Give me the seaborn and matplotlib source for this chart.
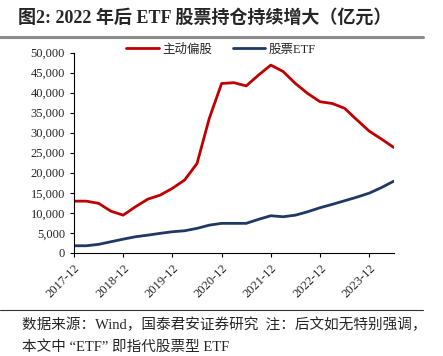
import pandas as pd
import seaborn as sns
import matplotlib.pyplot as plt
from matplotlib.lines import Line2D
from matplotlib.ticker import FuncFormatter

# quarterly holdings, 100m yuan
quarters = pd.date_range("2017-12-31", periods=27, freq="QE").strftime("%Y-%m").tolist()
active_equity = [12900, 12900, 12350, 10400, 9400, 11500, 13400, 14400, 16100,
                 18200, 22300, 33600, 42300, 42500, 41700, 44400, 46900, 45300,
                 42300, 39800, 37750, 37300, 36100, 33200, 30400, 28400, 26300]
stock_etf = [1750, 1750, 2100, 2750, 3400, 4000, 4400, 4850, 5250,
             5500, 6100, 6900, 7350, 7350, 7350, 8350, 9250, 9000,
             9400, 10250, 11250, 12100, 13000, 13900, 14900, 16300, 17900]
series_names = ["主动偏股", "股票ETF"]
colors = ["#C00000", "#1F3864"]

df = pd.DataFrame({
    "idx": list(range(len(quarters))) * 2,
    "value": active_equity + stock_etf,
    "series": [series_names[0]] * len(quarters) + [series_names[1]] * len(quarters),
})

sns.set_style("ticks")
plt.rcParams["font.family"] = ["Liberation Serif", "Noto Sans CJK SC"]

fig = plt.figure(figsize=(4.43, 3.56), dpi=100)
ax = fig.add_axes([0.167, 0.290, 0.722, 0.562])

sns.lineplot(data=df, x="idx", y="value", hue="series", palette=colors,
             linewidth=2.0, ax=ax)
for ln in ax.get_lines():
    ln.set_solid_joinstyle("round")
    ln.set_solid_capstyle("round")

ax.set_xlim(0, len(quarters) - 1)
ax.set_ylim(0, 50000)
ax.set_yticks(range(0, 50001, 5000))
ax.yaxis.set_major_formatter(FuncFormatter(lambda v, p: f"{int(v):,}"))
ax.set_xticks(range(0, len(quarters), 4))
ax.set_xticklabels(quarters[::4], rotation=45, ha="right", rotation_mode="anchor")
ax.tick_params(axis="both", labelsize=9, length=3, width=0.8, color="black")
ax.set_xlabel("")
ax.set_ylabel("")
sns.despine(ax=ax)
for s in ["left", "bottom"]:
    ax.spines[s].set_color("black")
    ax.spines[s].set_linewidth(0.8)

ax.legend(loc="lower center", bbox_to_anchor=(0.46, 0.93), ncol=2, frameon=False,
          fontsize=9, handlelength=2.6, columnspacing=1.6, handletextpad=0.3)

fig.text(0.04, 0.949, "图2: 2022 年后 ETF 股票持仓持续增大（亿元）", fontsize=13,
         fontweight="bold", va="center", ha="left")
fig.add_artist(Line2D([0.0, 0.955], [0.896, 0.896], color="#8c8c8c", linewidth=2.2))
fig.add_artist(Line2D([0.0, 0.955], [0.129, 0.129], color="#333333", linewidth=0.8))
fig.text(0.05, 0.087, "数据来源：Wind，国泰君安证券研究  注：后文如无特别强调，",
         fontsize=10.5, va="center", ha="left")
fig.text(0.05, 0.025, "本文中 “ETF” 即指代股票型 ETF", fontsize=10.5, va="center", ha="left")

fig.savefig("out.png", dpi=100)
